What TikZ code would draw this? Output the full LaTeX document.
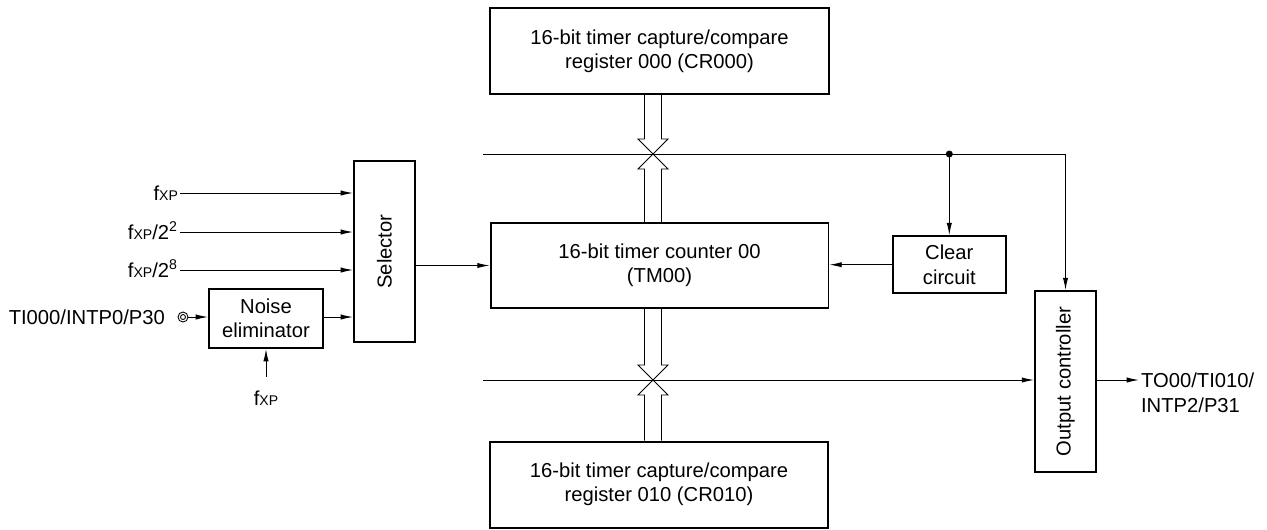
\documentclass[tikz,border=0pt]{standalone}
\usepackage{fontspec}
\setmainfont{Liberation Sans}
\usetikzlibrary{arrows.meta,calc}

\tikzset{
  blk/.style={draw, line width=1.1pt, inner sep=0pt, align=center},
  sig/.style={line width=0.55pt, -{Latex[length=7pt,width=3pt]}},
  lbl/.style={inner sep=1pt, text height=8.2pt, text depth=0pt},
}
\newcommand{\fxp}{f{\fontsize{8pt}{8pt}\selectfont XP}}
% hollow bus arrow, from #1 to the tip #2
\newcommand{\busarrow}[2]{%
  \draw[line width=0.5pt] let \p1=(#1), \p2=(#2), \n1={sign(\y2-\y1)} in
    (\x1-0.17cm,\y1) -- (\x1-0.17cm,{\y2-(\n1)*0.3cm})
    -- (\x1-0.3cm,{\y2-(\n1)*0.3cm}) -- (\x1,\y2)
    -- (\x1+0.3cm,{\y2-(\n1)*0.3cm}) -- (\x1+0.17cm,{\y2-(\n1)*0.3cm})
    -- (\x1+0.17cm,\y1);}

\begin{document}
\begin{tikzpicture}[x=0.02cm, y=-0.02cm, font=\fontsize{11.5pt}{13.8pt}\selectfont]
    \useasboundingbox (0,0) rectangle (1267,529);
    % registers and counter
    \node[blk, minimum width=6.78cm, minimum height=1.72cm] (cr0) at (659.5,51)
      {16-bit timer capture/compare\\register 000 (CR000)};
    \node[blk, minimum width=6.76cm, minimum height=1.71cm] (tm) at (659.5,265.5)
      {16-bit timer counter 00\\(TM00)};
    \node[blk, minimum width=6.76cm, minimum height=1.72cm] (cr1) at (659,484.6)
      {16-bit timer capture/compare\\register 010 (CR010)};
    % other blocks
    \node[blk, minimum width=1.22cm, minimum height=3.62cm] (sel) at (384.5,251.5)
      {\rotatebox{90}{Selector}};
    \node[blk, minimum width=2.28cm, minimum height=1.18cm] (ne) at (266,318.5)
      {Noise\\eliminator};
    \node[blk, minimum width=2.26cm, minimum height=1.14cm] (clr) at (949.3,264.7)
      {Clear\\circuit};
    \node[blk, minimum width=1.22cm, minimum height=3.62cm] (oc) at (1065.5,381.5)
      {\rotatebox{90}{Output controller}};
    % inputs
    \node[lbl, anchor=east] (fa) at (180,193) {\fxp};
    \node[lbl, anchor=east] (fb) at (180,232) {\fxp/2\textsuperscript{2}};
    \node[lbl, anchor=east] (fc) at (180,270) {\fxp/2\textsuperscript{8}};
    \draw[sig] (fa.east) -- (fa.east -| sel.west);
    \draw[sig] (fb.east) -- (fb.east -| sel.west);
    \draw[sig] (fc.east) -- (fc.east -| sel.west);
    \node[circle, draw, line width=0.5pt, inner sep=0pt, minimum size=0.2cm] (pin) at (183,317) {};
    \draw[line width=0.5pt] (pin.center) circle[radius=0.05cm];
    \node[lbl, anchor=east] (ti) at (167,317) {TI000/INTP0/P30};
    \draw[sig] (pin.east) -- (pin.east -| ne.west);
    \draw[sig] (ne.east |- pin) -- (sel.west |- pin);
    \node[lbl] (fd) at (266,398.5) {\fxp};
    \draw[sig, shorten <=7pt] (fd.north) -- (ne.south);
    \draw[sig] (sel.east |- tm.west) -- (tm.west);
    % bus lines
    \coordinate (hi) at (483,154);
    \coordinate (lo) at (483,380);
    \coordinate (bx) at (653,0);
    \coordinate (dot) at (clr.north |- hi);
    \draw[sig] (hi) -| (oc.north);
    \fill (dot) circle[radius=0.07cm];
    \draw[sig] (dot) -- (clr.north);
    \draw[sig] (clr.west) -- (tm.east |- clr.west);
    \draw[sig] (lo) -- (lo -| oc.west);
    \busarrow{bx |- cr0.south}{bx |- hi}
    \busarrow{bx |- tm.north}{bx |- hi}
    \busarrow{bx |- tm.south}{bx |- lo}
    \busarrow{bx |- cr1.north}{bx |- lo}
    % output
    \node[anchor=north west, align=left, inner sep=1pt] (out) at (1139,371)
      {TO00/TI010/\\INTP2/P31};
    \draw[sig] (oc.east |- lo) -- (out.west |- lo);
\end{tikzpicture}
\end{document}
